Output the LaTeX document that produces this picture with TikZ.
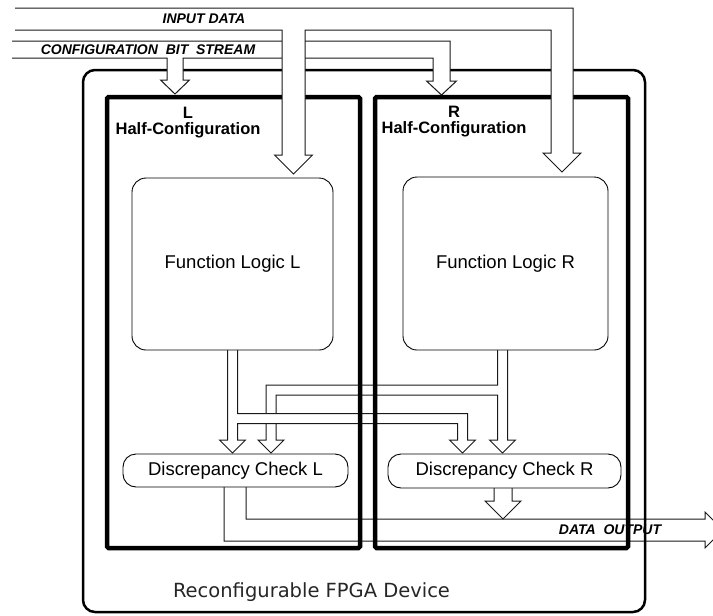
\documentclass[tikz,border=0pt]{standalone}
\usepackage{fontspec}
\setmainfont{Liberation Sans}
\newfontfamily\devicefont{DejaVu Sans}

\tikzset{
    half/.style={draw, line width=4.5pt, rounded corners=1.5pt, minimum width=253pt, minimum height=451pt},
    logic/.style={draw, line width=0.9pt, rounded corners=14pt, fill=white, font=\fontsize{18.5}{20}\selectfont},
    busarrow/.style={draw=black!90, line width=1pt, fill=white},
    buslabel/.style={font=\fontsize{14}{16}\bfseries\itshape\selectfont},
    halflabel/.style={align=center, font=\fontsize{16.5}{16}\bfseries\selectfont},
}

\begin{document}
\begin{tikzpicture}[x=1pt, y=-1pt]
        \useasboundingbox (0,0) rectangle (713,616);
    %Arrows inside the device
        \draw[busarrow] (497.5,350) -- (497.5,385) -- (266,385) -- (266,440) -- (258,440) -- (271,453) -- (284,440) -- (276,440) -- (276,395) -- (497.5,395) -- (497.5,440) -- (489.5,440) -- (502.5,453) -- (515.5,440) -- (507.5,440) -- (507.5,350);
        \draw[busarrow] (227.5,350) -- (227.5,440) -- (219.5,440) -- (232.5,453) -- (245.5,440) -- (237.5,440) -- (237.5,423.5) -- (457.5,423.5) -- (457.5,440) -- (449.5,440) -- (462.5,453) -- (475.5,440) -- (467.5,440) -- (467.5,413.5) -- (237.5,413.5) -- (237.5,350);
        \draw[busarrow] (224,487) -- (224,541) -- (705,541) -- (705,548) -- (723,530) -- (705,512) -- (705,519) -- (246,519) -- (246,487);
        \draw[busarrow] (494,488) -- (494,501) -- (485,501) -- (503,519) -- (521,501) -- (512,501) -- (512,488);
        \node[buslabel] (outlabel) at (610,530) {DATA~~OUTPUT};
    %Device and halves
        \node[draw, line width=2.5pt, rounded corners=12pt, minimum width=562pt, minimum height=542pt] (device) at (364,341) {};
        \node[font=\devicefont\fontsize{19.5}{22}\selectfont, text=black!85] (devlabel) at (311.5,592) {Reconfigurable FPGA Device};
        \node[half] (lhalf) at (233.5,322.5) {};
        \node[half] (rhalf) at (501.5,322.5) {};
        \node[halflabel] (llabel) at (188,123) {L\\Half-Configuration};
        \node[halflabel] (rlabel) at (454,122) {R\\Half-Configuration};
    %Logic blocks
        \node[logic, minimum width=201pt, minimum height=172pt] (fll) at (232.5,264) {Function Logic L};
        \node[logic, minimum width=205pt, minimum height=173pt] (flr) at (505.5,263.5) {Function Logic R};
        \node[logic, rounded corners=13pt, minimum width=225pt, minimum height=33pt] (dcl) at (235.5,470.5) {Discrepancy Check L};
        \node[logic, rounded corners=13pt, minimum width=233pt, minimum height=34pt] (dcr) at (504.5,471) {Discrepancy Check R};
    %Input buses
        \draw[busarrow] (12,41) -- (450,41) -- (450,81) -- (456.5,81) -- (441.5,95) -- (426.5,81) -- (433,81) -- (433,58) -- (183,58) -- (183,80) -- (189.5,80) -- (175,94) -- (160.5,80) -- (167,80) -- (167,58) -- (12,58);
        \node[buslabel] (cfglabel) at (148,49.5) {CONFIGURATION~~BIT~~STREAM};
        \draw[busarrow] (15,8) -- (573,8) -- (573,153) -- (581,153) -- (562,172) -- (543,153) -- (551,153) -- (551,30) -- (305,30) -- (305,155) -- (312.5,155) -- (293.5,174) -- (274.5,155) -- (282,155) -- (282,30) -- (15,30);
        \node[buslabel] (inlabel) at (204,19) {INPUT DATA};
\end{tikzpicture}
\end{document}
